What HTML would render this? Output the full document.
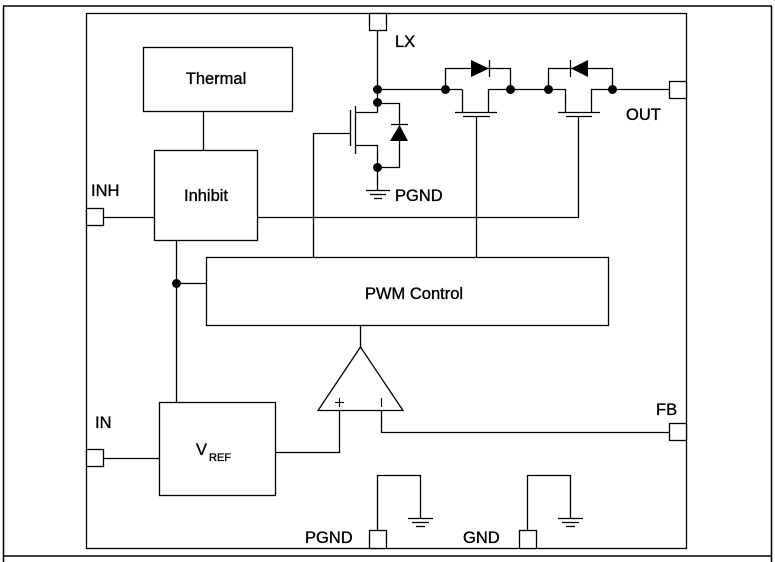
<!DOCTYPE html>
<html><head><meta charset="utf-8"><style>
html,body{margin:0;padding:0;background:#fff;}
svg{display:block;font-family:"Liberation Sans",Arial,sans-serif;}
</style></head><body>
<svg width="775" height="562" viewBox="0 0 775 562" xmlns="http://www.w3.org/2000/svg">
<g fill="none" stroke="#000" stroke-width="1.3">
<line x1="3" y1="6" x2="772" y2="6" stroke-width="1.5"/>
<line x1="3.5" y1="6" x2="3.5" y2="562" stroke-width="1.5"/>
<line x1="3" y1="556" x2="772" y2="556" stroke-width="1.5"/>
<line x1="771.5" y1="6" x2="771.5" y2="562" stroke-width="1.5"/>
<rect x="86.5" y="13.5" width="600" height="535"/>
<rect x="143.5" y="47.5" width="149" height="64"/>
<rect x="154.5" y="150.5" width="103" height="90"/>
<rect x="206.5" y="257.5" width="402" height="68"/>
<rect x="159.5" y="402.5" width="116" height="93"/>
<rect x="369.5" y="13.5" width="17" height="17" fill="#fff"/>
<rect x="669.5" y="81.5" width="17" height="17" fill="#fff"/>
<rect x="86.5" y="208.5" width="17" height="17" fill="#fff"/>
<rect x="86.5" y="449.5" width="17" height="17" fill="#fff"/>
<rect x="669.5" y="423.5" width="17" height="17" fill="#fff"/>
<rect x="369.5" y="530.5" width="17" height="18" fill="#fff"/>
<rect x="519.5" y="530.5" width="17" height="18" fill="#fff"/>
<line x1="203.5" y1="111" x2="203.5" y2="150"/>
<line x1="103" y1="217.5" x2="154" y2="217.5"/>
<polyline points="258,217.5 578.5,217.5 578.5,116"/>
<line x1="176.5" y1="240" x2="176.5" y2="402"/>
<line x1="176" y1="283.5" x2="206" y2="283.5"/>
<line x1="103" y1="458.5" x2="159" y2="458.5"/>
<polyline points="313.5,257 313.5,133.5 350,133.5"/>
<line x1="476.5" y1="116" x2="476.5" y2="257"/>
<line x1="360.5" y1="326" x2="360.5" y2="347"/>
<polygon points="360.5,347 318,410.5 403,410.5"/>
<polyline points="339.5,410 339.5,452.5 275,452.5"/>
<polyline points="381.5,410 381.5,432.5 669,432.5"/>
<line x1="335" y1="402.5" x2="344" y2="402.5" stroke-width="1.1"/>
<line x1="339.5" y1="398" x2="339.5" y2="407" stroke-width="1.1"/>
<line x1="381.5" y1="398" x2="381.5" y2="407" stroke-width="1.1"/>
<line x1="377.5" y1="30" x2="377.5" y2="112.5"/>
<line x1="377" y1="89.5" x2="462" y2="89.5"/>
<line x1="350.5" y1="110" x2="350.5" y2="146"/>
<line x1="355.5" y1="106" x2="355.5" y2="154"/>
<polyline points="356,112.5 377.5,112.5"/>
<polyline points="356,145.5 377.5,145.5 377.5,190"/>
<polyline points="377.5,103.5 399.5,103.5 399.5,167.5 377.5,167.5"/>
<line x1="391" y1="124.5" x2="408" y2="124.5"/>
<line x1="366" y1="190.5" x2="390" y2="190.5"/>
<line x1="370" y1="194.5" x2="386" y2="194.5"/>
<line x1="374" y1="198.5" x2="382" y2="198.5"/>
<polyline points="445.5,89.5 445.5,68.5 510.5,68.5 510.5,89.5"/>
<polyline points="462.5,89.5 462.5,112.5"/>
<polyline points="510,89.5 488.5,89.5 488.5,112.5"/>
<line x1="455" y1="112.5" x2="497" y2="112.5"/>
<line x1="463" y1="116.5" x2="490" y2="116.5"/>
<line x1="489.5" y1="60" x2="489.5" y2="77"/>
<line x1="510" y1="89.5" x2="548" y2="89.5"/>
<polyline points="548.5,89.5 548.5,68.5 612.5,68.5 612.5,89.5"/>
<polyline points="548.5,89.5 565.5,89.5 565.5,112.5"/>
<polyline points="612,89.5 591.5,89.5 591.5,112.5"/>
<line x1="558" y1="112.5" x2="600" y2="112.5"/>
<line x1="566" y1="116.5" x2="592" y2="116.5"/>
<line x1="570.5" y1="60" x2="570.5" y2="77"/>
<line x1="612" y1="89.5" x2="669" y2="89.5"/>
<polyline points="377.5,530 377.5,475.5 420.5,475.5 420.5,518"/>
<polyline points="527.5,530 527.5,475.5 570.5,475.5 570.5,518"/>
<line x1="408" y1="518.5" x2="433" y2="518.5"/>
<line x1="412" y1="522.5" x2="429" y2="522.5"/>
<line x1="416" y1="526.5" x2="425" y2="526.5"/>
<line x1="558" y1="518.5" x2="583" y2="518.5"/>
<line x1="562" y1="522.5" x2="579" y2="522.5"/>
<line x1="566" y1="526.5" x2="575" y2="526.5"/>
</g>
<g fill="#000">
<polygon points="390,141 408,141 399.5,125"/>
<polygon points="471,60 471,77 489,68.5"/>
<polygon points="588,60 588,77 571,68.5"/>
<circle cx="377.5" cy="89.5" r="4.5"/>
<circle cx="377.5" cy="102.5" r="4.5"/>
<circle cx="377.5" cy="167.5" r="4.5"/>
<circle cx="445.5" cy="89.5" r="4.5"/>
<circle cx="510.5" cy="89.5" r="4.5"/>
<circle cx="548.5" cy="89.5" r="4.5"/>
<circle cx="612.5" cy="89.5" r="4.5"/>
<circle cx="176.5" cy="283.5" r="4.5"/>
</g>
<g font-size="16.5" fill="#000" stroke="#000" stroke-width="0.35">
<text x="216" y="84" text-anchor="middle">Thermal</text>
<text x="206" y="201" text-anchor="middle">Inhibit</text>
<text x="414" y="299" text-anchor="middle">PWM Control</text>
<text x="196" y="455">V</text><text x="209" y="461" font-size="11">REF</text>
<text x="395" y="47">LX</text>
<text x="395" y="201">PGND</text>
<text x="626" y="120">OUT</text>
<text x="91" y="196">INH</text>
<text x="95" y="428">IN</text>
<text x="656" y="415">FB</text>
<text x="305" y="543">PGND</text>
<text x="463" y="543">GND</text>
</g>
</svg>
</body></html>
